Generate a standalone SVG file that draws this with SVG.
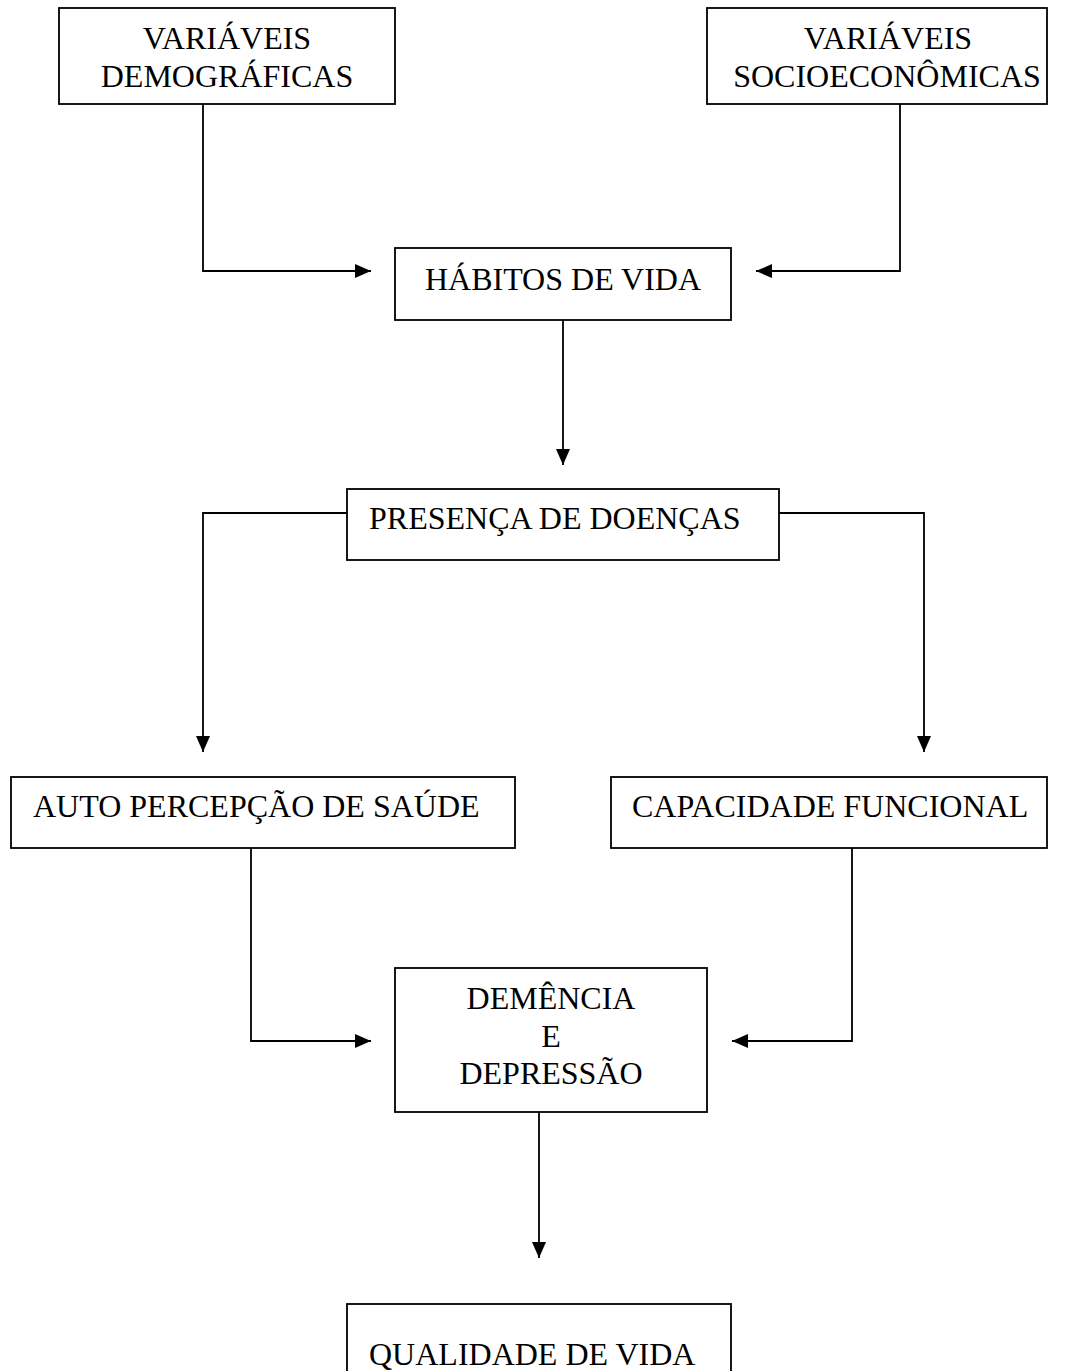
<svg xmlns="http://www.w3.org/2000/svg" width="1068" height="1371" viewBox="0 0 1068 1371">
<defs>
<style>
.box{fill:#fff;stroke:#000;stroke-width:1.8}
.t{font-family:"Liberation Serif","Times New Roman",serif;font-size:32px;fill:#000}
.c{text-anchor:middle}
.ln{fill:none;stroke:#000;stroke-width:1.8}
</style>
<marker id="ah" markerWidth="16" markerHeight="14" refX="16" refY="7" orient="auto" markerUnits="userSpaceOnUse">
<path d="M0,0 L16,7 L0,14 Z" fill="#000"/>
</marker>
</defs>
<rect width="1068" height="1371" fill="#fff"/>
<g id="connectors">
<path class="ln" d="M203,104 V271 H371" marker-end="url(#ah)"/>
<path class="ln" d="M900,104 V271 H756" marker-end="url(#ah)"/>
<path class="ln" d="M563,320 V465" marker-end="url(#ah)"/>
<path class="ln" d="M347,513 H203 V752" marker-end="url(#ah)"/>
<path class="ln" d="M779,513 H924 V752" marker-end="url(#ah)"/>
<path class="ln" d="M251,848 V1041 H371" marker-end="url(#ah)"/>
<path class="ln" d="M852,848 V1041 H732" marker-end="url(#ah)"/>
<path class="ln" d="M539,1112 V1258" marker-end="url(#ah)"/>
</g>
<g id="demograficas">
<rect class="box" x="59" y="8" width="336" height="96"/>
<text class="t c" x="227" y="49">VARIÁVEIS</text>
<text class="t c" x="227" y="87">DEMOGRÁFICAS</text>
</g>
<g id="socioeconomicas">
<rect class="box" x="707" y="8" width="340" height="96"/>
<text class="t c" x="888" y="49">VARIÁVEIS</text>
<text class="t c" x="887" y="87">SOCIOECONÔMICAS</text>
</g>
<g id="habitos">
<rect class="box" x="395" y="248" width="336" height="72"/>
<text class="t c" x="563" y="290">HÁBITOS DE VIDA</text>
</g>
<g id="doencas">
<rect class="box" x="347" y="489" width="432" height="71"/>
<text class="t" x="369" y="529">PRESENÇA DE DOENÇAS</text>
</g>
<g id="autopercepcao">
<rect class="box" x="11" y="777" width="504" height="71"/>
<text class="t" x="33" y="817">AUTO PERCEPÇÃO DE SAÚDE</text>
</g>
<g id="capacidade">
<rect class="box" x="611" y="777" width="436" height="71"/>
<text class="t" x="632" y="817">CAPACIDADE FUNCIONAL</text>
</g>
<g id="demencia">
<rect class="box" x="395" y="968" width="312" height="144"/>
<text class="t c" x="551" y="1009">DEMÊNCIA</text>
<text class="t c" x="551" y="1047">E</text>
<text class="t c" x="551" y="1084">DEPRESSÃO</text>
</g>
<g id="qualidade">
<rect class="box" x="347" y="1304" width="384" height="90"/>
<text class="t" x="369" y="1365">QUALIDADE DE VIDA</text>
</g>
</svg>
